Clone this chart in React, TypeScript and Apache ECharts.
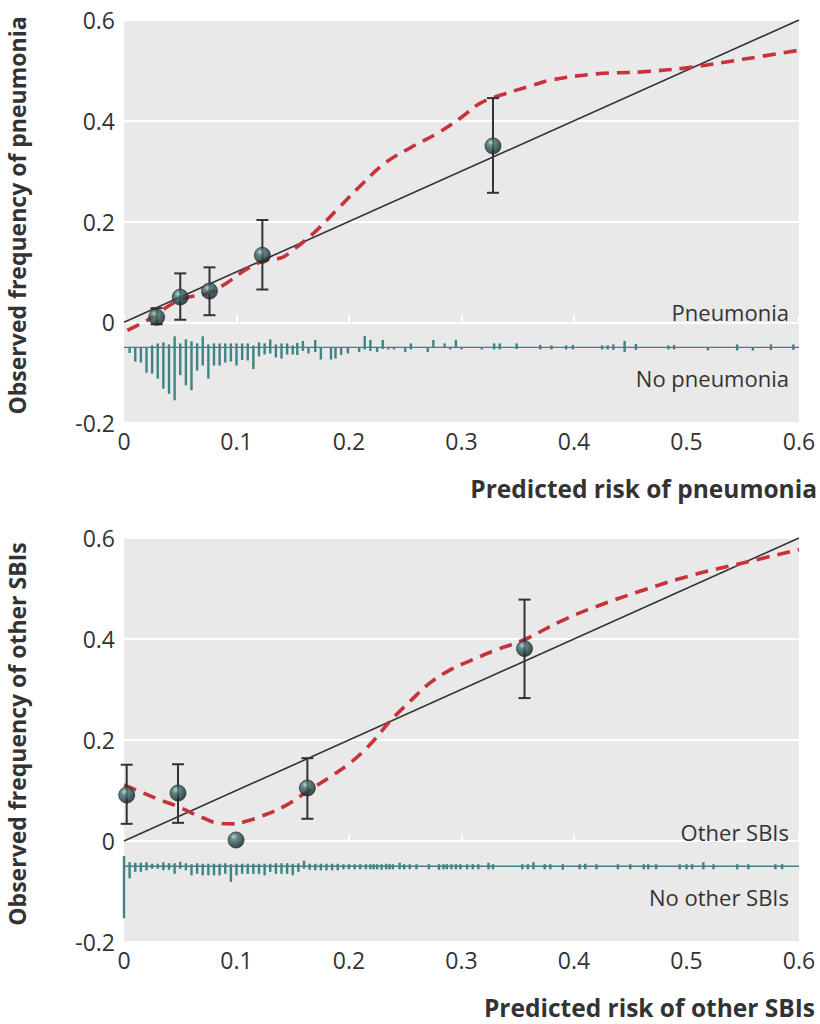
import React, { useEffect, useRef } from "react";
import * as echarts from "echarts";

// ---------- DATA ----------
const xTicks = [0, 0.1, 0.2, 0.3, 0.4, 0.5, 0.6];
const yTicks = [-0.2, 0, 0.2, 0.4, 0.6];
const RUG_BASE = -0.05;

// Top panel: pneumonia
const pneuCurve: [number, number][] = [
  [0.003, -0.016], [0.02, 0.003], [0.05, 0.045], [0.075, 0.058], [0.09, 0.076],
  [0.11, 0.107], [0.127, 0.124], [0.14, 0.128], [0.15, 0.143], [0.17, 0.18],
  [0.19, 0.225], [0.212, 0.275], [0.232, 0.316], [0.255, 0.347], [0.28, 0.377],
  [0.3, 0.407], [0.316, 0.434], [0.335, 0.451], [0.36, 0.468], [0.38, 0.481],
  [0.42, 0.493], [0.46, 0.497], [0.5, 0.505], [0.55, 0.522], [0.6, 0.54],
];
const pneuX = [0.029, 0.05, 0.076, 0.123, 0.328];
const pneuObs = [0.01, 0.05, 0.062, 0.133, 0.35];
const pneuLow = [-0.004, 0.005, 0.014, 0.065, 0.257];
const pneuHigh = [0.028, 0.097, 0.109, 0.203, 0.445];
// rug: x, events (up, thousandths of y unit), non-events (down)
const pneuRugX = [
  0.005, 0.01, 0.015, 0.02, 0.025, 0.03, 0.035, 0.04, 0.045, 0.05, 0.055, 0.06,
  0.065, 0.07, 0.075, 0.08, 0.085, 0.09, 0.095, 0.1, 0.105, 0.11, 0.115, 0.12,
  0.125, 0.13, 0.135, 0.14, 0.145, 0.15, 0.154, 0.159, 0.164, 0.17, 0.175, 0.184,
  0.188, 0.193, 0.199, 0.209, 0.214, 0.219, 0.225, 0.23, 0.235, 0.24, 0.25, 0.255,
  0.27, 0.275, 0.285, 0.29, 0.295, 0.3, 0.318, 0.329, 0.334, 0.349, 0.37, 0.38,
  0.393, 0.399, 0.425, 0.43, 0.435, 0.445, 0.455, 0.484, 0.489, 0.519, 0.545,
  0.559, 0.575, 0.595,
];
const pneuRugUp = [
  0, 0, 0, 0, 4, 8, 10, 6, 22, 8, 16, 12,
  8, 22, 6, 8, 8, 8, 8, 8, 8, 8, 4, 10,
  8, 16, 6, 8, 8, 4, 9, 13, 0, 15, 0, 0,
  0, 0, 0, 0, 23, 15, 0, 15, 0, 0, 0, 8,
  0, 15, 8, 0, 15, 0, 0, 8, 8, 8, 5, 4,
  4, 5, 4, 4, 6, 13, 7, 4, 5, 0, 6,
  0, 6, 6,
];
const pneuRugDown = [
  11, 28, 30, 50, 52, 62, 82, 92, 105, 55, 75, 85,
  46, 36, 62, 36, 36, 30, 28, 36, 25, 26, 43, 18,
  14, 12, 20, 22, 14, 14, 15, 7, 12, 9, 24, 24,
  22, 15, 12, 9, 4, 7, 9, 3, 4, 4, 9, 4,
  9, 0, 0, 4, 0, 4, 4, 4, 4, 3, 4, 4,
  4, 4, 4, 4, 5, 9, 5, 4, 4, 6, 6,
  6, 5, 5,
];

// Bottom panel: other SBIs
const sbiCurve: [number, number][] = [
  [0, 0.111], [0.014, 0.098], [0.03, 0.083], [0.048, 0.068], [0.068, 0.048],
  [0.085, 0.035], [0.097, 0.034], [0.11, 0.04], [0.121, 0.048], [0.142, 0.068],
  [0.163, 0.098], [0.186, 0.131], [0.2, 0.153], [0.212, 0.176], [0.224, 0.204],
  [0.236, 0.236], [0.254, 0.276], [0.272, 0.313], [0.29, 0.339], [0.31, 0.359],
  [0.328, 0.376], [0.356, 0.399], [0.388, 0.435], [0.417, 0.462], [0.462, 0.497],
  [0.506, 0.527], [0.551, 0.551], [0.6, 0.577],
];
const sbiX = [0.0024, 0.048, 0.0996, 0.163, 0.356];
const sbiObs = [0.091, 0.095, 0.002, 0.105, 0.381];
const sbiLow = [0.034, 0.036, 0.002, 0.044, 0.283];
const sbiHigh = [0.151, 0.152, 0.002, 0.164, 0.478];
const sbiRugX = [
  0, 0.005, 0.01, 0.015, 0.02, 0.025, 0.03, 0.035, 0.04, 0.045, 0.05, 0.055,
  0.06, 0.065, 0.07, 0.075, 0.08, 0.085, 0.09, 0.095, 0.1, 0.105, 0.11, 0.115,
  0.12, 0.125, 0.13, 0.135, 0.14, 0.145, 0.15, 0.155, 0.16, 0.165, 0.17, 0.175,
  0.18, 0.185, 0.19, 0.195, 0.2, 0.205, 0.21, 0.215, 0.219, 0.222, 0.225, 0.229,
  0.233, 0.236, 0.239, 0.245, 0.249, 0.254, 0.26, 0.271, 0.28, 0.284, 0.287,
  0.291, 0.295, 0.299, 0.305, 0.31, 0.315, 0.324, 0.328, 0.354, 0.359, 0.364,
  0.374, 0.379, 0.39, 0.405, 0.41, 0.42, 0.439, 0.45, 0.462, 0.466, 0.473,
  0.494, 0.5, 0.505, 0.515, 0.524, 0.545, 0.555, 0.579, 0.585,
];
const sbiRugUp = [
  20, 8, 7, 7, 8, 5, 5, 8, 6, 6, 9, 6,
  4, 6, 5, 5, 5, 5, 6, 4, 5, 5, 5, 5,
  5, 5, 5, 6, 6, 6, 5, 6, 11, 5, 5, 5,
  5, 5, 5, 4, 4, 4, 4, 4, 4, 4, 4, 4,
  5, 4, 4, 7, 4, 4, 4, 4, 4, 4, 4,
  4, 4, 4, 4, 4, 4, 7, 4, 4, 4, 8,
  4, 4, 4, 4, 5, 4, 4, 4, 4, 4, 4,
  4, 4, 4, 8, 4, 4, 4, 4, 4,
];
const sbiRugDown = [
  103, 24, 11, 11, 8, 5, 5, 8, 7, 15, 5, 8,
  18, 15, 18, 18, 18, 18, 15, 31, 18, 15, 15, 15,
  15, 18, 11, 15, 15, 15, 18, 11, 5, 7, 8, 8,
  8, 8, 8, 6, 6, 6, 6, 6, 6, 6, 6, 7,
  6, 6, 6, 6, 6, 6, 6, 6, 7, 6, 6,
  6, 6, 6, 6, 6, 6, 6, 6, 6, 6, 6,
  6, 6, 7, 6, 6, 6, 6, 6, 6, 6, 6,
  6, 6, 6, 6, 6, 6, 6, 6, 6,
];

// ---------- STYLE ----------
const FONT = '"Open Sans", "Noto Sans", sans-serif';
const TEXT = "#333333";
const BG = "#e9e9e9";
const RUG = "#3f8383";
const RED = "#c7323b";
const DARK = "#333333";

const fmt = (v: number) => (Math.abs(v) < 1e-9 ? "0" : String(+v.toFixed(1)));

function rugSeries(gi: number, xs: number[], up: number[], down: number[]) {
  return {
    type: "custom",
    xAxisIndex: gi,
    yAxisIndex: gi,
    z: 3,
    silent: true,
    data: xs.map((x, i) => [x, up[i], down[i]]),
    renderItem: (_p: any, api: any) => {
      const x = api.value(0);
      const u = api.value(1) / 1000;
      const d = api.value(2) / 1000;
      const top = api.coord([x, RUG_BASE + u]);
      const bot = api.coord([x, RUG_BASE - d]);
      return {
        type: "rect",
        shape: { x: top[0] - 1.2, y: top[1], width: 2.4, height: Math.max(bot[1] - top[1], 1) },
        style: { fill: RUG },
      };
    },
  };
}

function errorSeries(gi: number, xs: number[], lo: number[], hi: number[]) {
  return {
    type: "custom",
    xAxisIndex: gi,
    yAxisIndex: gi,
    z: 6,
    silent: true,
    data: xs.map((x, i) => [x, lo[i], hi[i]]),
    renderItem: (_p: any, api: any) => {
      const x = api.value(0);
      const l = api.value(1);
      const h = api.value(2);
      if (h - l < 1e-6) return { type: "group", children: [] };
      const a = api.coord([x, h]);
      const b = api.coord([x, l]);
      const w = 6;
      const st = { stroke: DARK, lineWidth: 2 };
      return {
        type: "group",
        children: [
          { type: "line", shape: { x1: a[0], y1: a[1], x2: b[0], y2: b[1] }, style: st },
          { type: "line", shape: { x1: a[0] - w, y1: a[1], x2: a[0] + w, y2: a[1] }, style: st },
          { type: "line", shape: { x1: b[0] - w, y1: b[1], x2: b[0] + w, y2: b[1] }, style: st },
        ],
      };
    },
  };
}

function panelSeries(
  gi: number,
  curve: [number, number][],
  px: number[],
  obs: number[],
  lo: number[],
  hi: number[],
  rx: number[],
  ru: number[],
  rd: number[]
) {
  return [
    {
      type: "line",
      xAxisIndex: gi,
      yAxisIndex: gi,
      z: 2,
      silent: true,
      symbol: "none",
      data: [[0, RUG_BASE], [0.6, RUG_BASE]],
      lineStyle: { color: RUG, width: 1.3 },
    },
    rugSeries(gi, rx, ru, rd),
    {
      type: "line",
      xAxisIndex: gi,
      yAxisIndex: gi,
      z: 4,
      silent: true,
      symbol: "none",
      data: [[0, 0], [0.6, 0.6]],
      lineStyle: { color: DARK, width: 1.6 },
    },
    {
      type: "line",
      xAxisIndex: gi,
      yAxisIndex: gi,
      z: 5,
      silent: true,
      symbol: "none",
      smooth: 0.4,
      data: curve,
      lineStyle: { color: RED, width: 3.6, type: [13, 8] },
    },
    errorSeries(gi, px, lo, hi),
    {
      type: "scatter",
      xAxisIndex: gi,
      yAxisIndex: gi,
      z: 7,
      silent: true,
      symbol: "circle",
      symbolSize: 16,
      data: px.map((x, i) => [x, obs[i]]),
      itemStyle: {
        color: new echarts.graphic.RadialGradient(0.36, 0.3, 0.72, [
          { offset: 0, color: "#b4d0d0" },
          { offset: 0.28, color: "#44706f" },
          { offset: 1, color: "#0e1f1f" },
        ]),
        borderColor: "#142626",
        borderWidth: 0.8,
      },
    },
  ];
}

function xAxisCfg(gi: number) {
  return {
    gridIndex: gi,
    type: "value",
    min: 0,
    max: 0.6,
    interval: 0.1,
    axisLine: { show: false },
    axisTick: { show: true, inside: true, length: 7, lineStyle: { color: "#ffffff", width: 2 } },
    splitLine: { show: false },
    axisLabel: { fontSize: 23, color: TEXT, fontFamily: FONT, margin: 6, formatter: fmt },
  };
}

function yAxisCfg(gi: number, name: string) {
  return {
    gridIndex: gi,
    type: "value",
    min: -0.2,
    max: 0.6,
    interval: 0.2,
    axisLine: { show: false },
    axisTick: { show: false },
    splitLine: { show: true, lineStyle: { color: "#ffffff", width: 2 } },
    axisLabel: { fontSize: 23, color: TEXT, fontFamily: FONT, margin: 9, formatter: fmt },
    name,
    nameLocation: "middle",
    nameRotate: 90,
    nameGap: 95,
    nameTextStyle: {
      fontSize: 23,
      fontWeight: "bold",
      color: TEXT,
      fontFamily: FONT,
      lineHeight: 24,
      padding: [0, 0, 0, 12],
    },
  };
}

function label(text: string, x: number, y: number, bold = false, size = 22) {
  return {
    type: "text",
    x,
    y,
    z: 10,
    silent: true,
    style: {
      text,
      align: "right",
      verticalAlign: "middle",
      fontSize: size,
      fontWeight: bold ? "bold" : "normal",
      fontFamily: FONT,
      fill: TEXT,
    },
  };
}

export default function App() {
  const ref = useRef<HTMLDivElement>(null);
  useEffect(() => {
    document.body.style.margin = "0";
    if (!ref.current) return;
    const chart = echarts.init(ref.current, undefined, { renderer: "svg" });
    chart.setOption({
      animation: false,
      backgroundColor: "#ffffff",
      textStyle: { fontFamily: FONT },
      grid: [
        {
          left: 124, right: 21, top: 20, height: 403, show: true,
          backgroundColor: BG, borderWidth: 0, containLabel: false, outerBoundsMode: "none",
        },
        {
          left: 124, right: 21, top: 538, height: 404, show: true,
          backgroundColor: BG, borderWidth: 0, containLabel: false, outerBoundsMode: "none",
        },
      ],
      xAxis: [xAxisCfg(0), xAxisCfg(1)],
      yAxis: [
        yAxisCfg(0, "Observed frequency of pneumonia"),
        yAxisCfg(1, "Observed frequency of other SBIs"),
      ],
      graphic: [
        label("Pneumonia", 789, 312),
        label("No pneumonia", 789, 378),
        label("Other SBIs", 789, 832),
        label("No other SBIs", 789, 897),
        label("Predicted risk of pneumonia", 817, 488, true, 24.5),
        label("Predicted risk of other SBIs", 815, 1007, true, 24.5),
      ],
      series: [
        ...panelSeries(0, pneuCurve, pneuX, pneuObs, pneuLow, pneuHigh, pneuRugX, pneuRugUp, pneuRugDown),
        ...panelSeries(1, sbiCurve, sbiX, sbiObs, sbiLow, sbiHigh, sbiRugX, sbiRugUp, sbiRugDown),
      ],
    });
    return () => chart.dispose();
  }, []);
  return <div ref={ref} style={{ width: 820, height: 1024 }} />;
}
